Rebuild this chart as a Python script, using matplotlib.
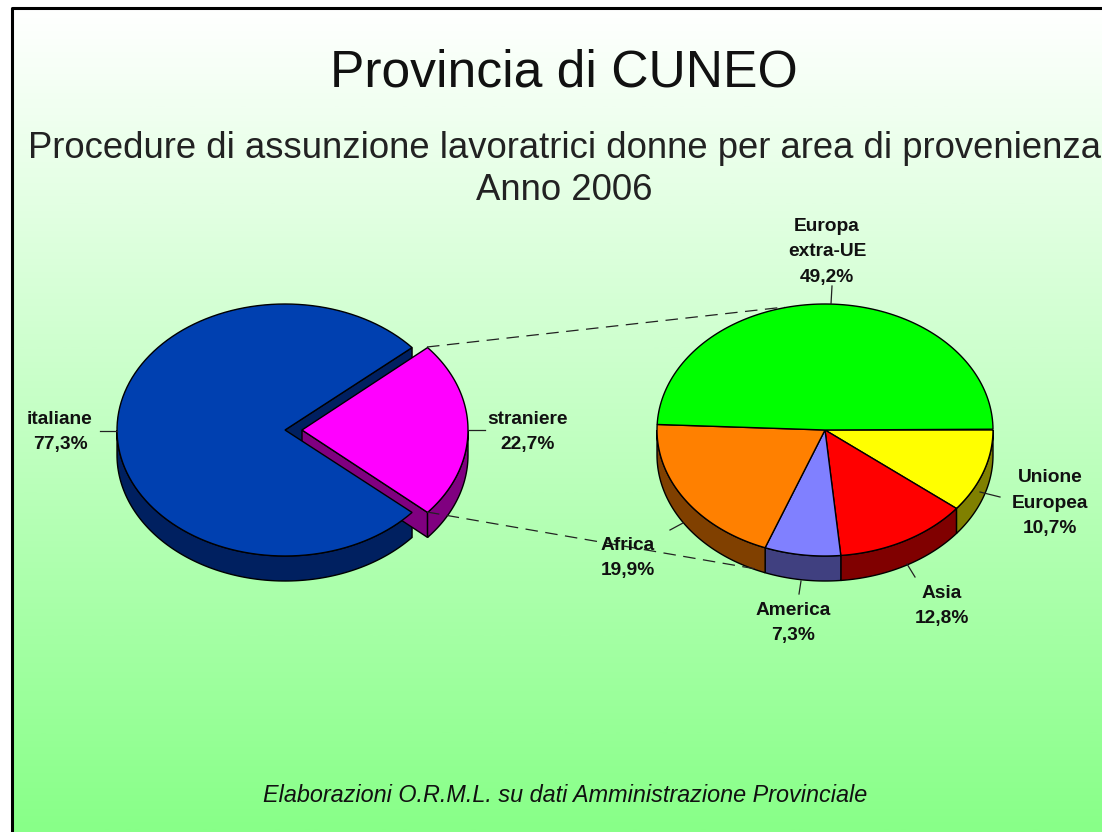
import numpy as np
import matplotlib
matplotlib.use('Agg')
import matplotlib.pyplot as plt
from matplotlib.colors import LinearSegmentedColormap
from matplotlib.patches import Polygon

plt.rcParams['font.family'] = ['Liberation Sans', 'DejaVu Sans']

# main pie
main_labels = ['italiane', 'straniere']
main_values = [77.3, 22.7]
main_colors = ['#0040B0', '#FF00FF']
main_dark = ['#002060', '#800080']

# detail pie, clockwise from the right
area_labels = ['Unione\nEuropea', 'Asia', 'America', 'Africa', 'Europa\nextra-UE']
area_values = [10.7, 12.8, 7.3, 19.9, 49.2]
area_colors = ['#FFFF00', '#FF0000', '#8080FF', '#FF8000', '#00FF00']
area_dark = ['#808000', '#800000', '#404080', '#804000', '#008000']

RX, RY, DEPTH = 168, 126, 25

fig = plt.figure(figsize=(11.02, 8.32), dpi=100)
ax = fig.add_axes([0, 0, 1, 1])

# sfondo sfumato
grad = np.linspace(0, 1, 400).reshape(-1, 1)
cmap = LinearSegmentedColormap.from_list('sfondo', ['#FFFFFF', '#88FF88'])
ax.imshow(grad, cmap=cmap, aspect='auto', extent=[12, 1102, 832, 8], zorder=0)
ax.set_xlim(0, 1102)
ax.set_ylim(832, 0)
ax.axis('off')
ax.plot([1102, 12, 12], [8, 8, 832], color='black', lw=2.2, zorder=1, solid_capstyle='butt')


def arc(cx, cy, t1, t2, rx=RX, drop=0):
    t = np.radians(np.linspace(t1, t2, 120))
    return np.column_stack([cx + rx * np.cos(t), cy - RY * np.sin(t) + drop])


def top(cx, cy, t1, t2, color, rx=RX):
    pts = np.vstack([[cx, cy], arc(cx, cy, t1, t2, rx)])
    ax.add_patch(Polygon(pts, closed=True, fc=color, ec='black', lw=1, zorder=3))


def wall(cx, cy, t1, t2, color, rx=RX):
    # solo la parte davanti del bordo (t1 > t2, senso orario)
    a, b = min(t1, 0), max(t2, -180)
    if a <= b:
        return
    up = arc(cx, cy, a, b, rx)
    down = arc(cx, cy, b, a, rx, DEPTH)
    ax.add_patch(Polygon(np.vstack([up, down]), closed=True, fc=color, ec='black', lw=1, zorder=2))


def cut(cx, cy, t, color, rx=RX):
    e = arc(cx, cy, t, t, rx)[0]
    pts = [[cx, cy], e, [e[0], e[1] + DEPTH], [cx, cy + DEPTH]]
    ax.add_patch(Polygon(pts, closed=True, fc=color, ec='black', lw=1, zorder=2))


# torta principale: straniere staccata, centrata sull'asse orizzontale
half = main_values[1] / 100 * 360 / 2
cut(285, 430, half, main_dark[0])
wall(285, 430, -half, half - 360, main_dark[0])
top(285, 430, half, 360 - half, main_colors[0])

cut(302, 430, -half, main_dark[1], rx=166)
wall(302, 430, 0, -half, main_dark[1], rx=166)
top(302, 430, half, -half, main_colors[1], rx=166)

# torta di dettaglio
start = 0
for val, col, dark in zip(area_values, area_colors, area_dark):
    end = start - val / 100 * 360
    wall(825, 430, start, end, dark)
    start = end
start = 0
for val, col in zip(area_values, area_colors):
    end = start - val / 100 * 360
    top(825, 430, start, end, col)
    start = end

# linee di collegamento
dash = (0, (10, 6))
ax.plot([427, 785], [347, 307], color='#222222', lw=0.9, ls=dash, zorder=4)
ax.plot([427, 762], [512, 570], color='#222222', lw=0.9, ls=dash, zorder=4)

# etichette
label_size = 13.8
label_gap = 1.65
main_pos = [(60, 432), (528, 432)]
main_lead = [((117, 431), (100, 431)), ((468, 430), (485, 430))]
for name, val, p, l in zip(main_labels, main_values, main_pos, main_lead):
    ax.text(p[0], p[1], f'{name}\n{val:.1f}%'.replace('.', ','), ha='center', va='center',
            fontsize=label_size, fontweight='bold', color='#111111', linespacing=label_gap, zorder=5)
    ax.plot(*zip(*l), color='#222222', lw=0.9, zorder=4)

area_pos = [(1050, 503), (942, 606), (793, 623), (628, 558), (827, 252)]
area_lead = [((980, 492), (1000, 497)), ((907, 564), (915, 577)), ((801, 581), (799, 594)),
             ((683, 523), (670, 530)), ((831, 304), (832, 286))]
for name, val, p, l in zip(area_labels, area_values, area_pos, area_lead):
    ax.text(p[0], p[1], f'{name}\n{val:.1f}%'.replace('.', ','), ha='center', va='center',
            fontsize=label_size, fontweight='bold', color='#111111', linespacing=label_gap, zorder=5)
    ax.plot(*zip(*l), color='#222222', lw=0.9, zorder=4)

# titoli
ax.text(564, 73, 'Provincia di CUNEO', ha='center', va='center', fontsize=37.2, color='#111111')
ax.text(565, 148, 'Procedure di assunzione lavoratrici donne per area di provenienza',
        ha='center', va='center', fontsize=26.3, color='#222222', clip_on=True)
ax.text(564, 190, 'Anno 2006', ha='center', va='center', fontsize=26.3, color='#222222')
ax.text(565, 796, 'Elaborazioni O.R.M.L. su dati Amministrazione Provinciale', ha='center', va='center',
        fontsize=16.8, style='italic', color='#111111')

fig.savefig('out.png', dpi=100)
